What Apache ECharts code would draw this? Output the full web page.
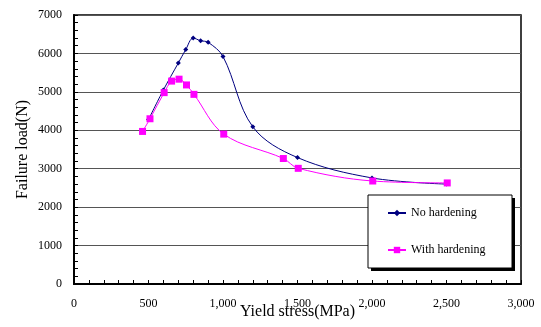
<!DOCTYPE html>
<html>
<head>
<meta charset="utf-8">
<script src="https://cdn.jsdelivr.net/npm/echarts@6/dist/echarts.min.js"></script>
<style>html,body{margin:0;padding:0;background:#fff}#c{width:541px;height:327px}</style>
</head>
<body>
<div id="c"></div>
<script>
const seriesNames = ['No hardening', 'With hardening'];
const noHardX = [500, 600, 700, 750, 800, 850, 900, 1000, 1200, 1500, 2000, 2500];
const noHardY = [4280, 5050, 5750, 6100, 6400, 6330, 6290, 5920, 4090, 3290, 2760, 2600];
const withHardX = [460, 510, 605, 655, 705, 755, 805, 1005, 1405, 1505, 2005, 2505];
const withHardY = [3970, 4300, 4980, 5280, 5330, 5180, 4935, 3900, 3265, 3010, 2680, 2630];
const xTicks = {min: 0, max: 3000, step: 500};
const yTicks = {min: 0, max: 7000, step: 1000};

const font = 'Liberation Serif';
const chart = echarts.init(document.getElementById('c'));
chart.setOption({
  animation: false,
  backgroundColor: '#fff',
  grid: {left: 74, right: 20, top: 15, bottom: 43, show: true, borderColor: '#000', borderWidth: 1.5, backgroundColor: 'transparent'},
  graphic: [
    {type: 'rect', z: 100, shape: {x: 371, y: 198, width: 144, height: 73}, style: {fill: '#000'}},
    {type: 'rect', z: 101, shape: {x: 368, y: 195, width: 144, height: 73}, style: {fill: '#fff', stroke: '#000', lineWidth: 1}}
  ],
  legend: {
    orient: 'vertical', left: 368, top: 195, z: 200,
    data: seriesNames,
    padding: [12, 27, 13, 19], itemGap: 25, itemWidth: 18, itemHeight: 8,
    textStyle: {fontFamily: font, fontSize: 12, color: '#000'}
  },
  xAxis: {
    type: 'value', min: xTicks.min, max: xTicks.max, interval: xTicks.step,
    name: 'Yield stress(MPa)', nameLocation: 'middle', nameGap: 20, nameMoveOverlap: false,
    nameTextStyle: {fontFamily: font, fontSize: 16, color: '#000'},
    axisLine: {lineStyle: {color: '#000', width: 2}},
    axisTick: {inside: true, length: 4, lineStyle: {color: '#000'}},
    minorTick: {show: true, splitNumber: 5, length: 4, lineStyle: {color: '#000'}},
    axisLabel: {fontFamily: font, fontSize: 12, color: '#000', margin: 14,
      formatter: v => v.toLocaleString('en-US')},
    splitLine: {show: false}
  },
  yAxis: {
    type: 'value', min: yTicks.min, max: yTicks.max, interval: yTicks.step,
    name: 'Failure load(N)', nameLocation: 'middle', nameGap: 43, nameMoveOverlap: false,
    nameTextStyle: {fontFamily: font, fontSize: 16, color: '#000'},
    axisLine: {show: true, lineStyle: {color: '#000', width: 2}},
    axisTick: {inside: true, length: 4, lineStyle: {color: '#000'}},
    minorTick: {show: true, splitNumber: 5, length: 4, lineStyle: {color: '#000'}},
    axisLabel: {fontFamily: font, fontSize: 12, color: '#000', margin: 12,
      formatter: v => String(v)},
    splitLine: {show: true, lineStyle: {color: '#555', width: 1}}
  },
  series: [
    {
      name: seriesNames[0], type: 'line', smooth: 0.35,
      data: noHardX.map((x, i) => [x, noHardY[i]]),
      symbol: 'diamond', symbolSize: 5,
      lineStyle: {color: '#000080', width: 1},
      itemStyle: {color: '#000080'}, z: 2
    },
    {
      name: seriesNames[1], type: 'line', smooth: 0.35,
      data: withHardX.map((x, i) => [x, withHardY[i]]),
      symbol: 'rect', symbolSize: 7,
      lineStyle: {color: '#FF00FF', width: 1},
      itemStyle: {color: '#FF00FF'}, z: 3
    }
  ]
});
</script>
</body>
</html>
